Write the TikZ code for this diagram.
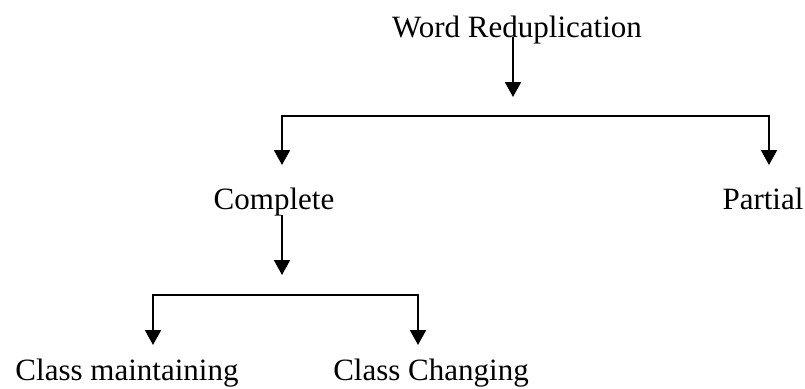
\documentclass[tikz,border=0pt]{standalone}
\usepackage{fontspec}
\setmainfont{Liberation Serif}
\usepackage{tikz}
\usetikzlibrary{arrows.meta}

\begin{document}
\begin{tikzpicture}[
 x=1pt,y=-1pt,
 lbl/.style={inner sep=0pt,anchor=base,font=\fontsize{31}{36}\selectfont},
 arr/.style={-{Triangle[length=15pt,width=16pt]},line width=2pt},
 fork/.style={{Triangle[length=15pt,width=16pt]}-{Triangle[length=15pt,width=16pt]},line width=2pt}
]
\useasboundingbox (0,0) rectangle (805,388);
\node[lbl] (wr) at (517,37) {Word Reduplication};
\node[lbl] (comp) at (274,209) {Complete};
\node[lbl] (part) at (763,209) {Partial};
\node[lbl] (cm) at (127,380) {Class maintaining};
\node[lbl] (cc) at (431,380) {Class Changing};
% first split
\coordinate (b1l) at (282,116);
\coordinate (b1r) at (769,116);
\draw[arr] ([xshift=-4pt]wr.base) -- ++(0,60);
\draw[fork] ([shift={(0,-44)}]comp.base -| b1l) -- (b1l) -- (b1r) -- ([shift={(0,-44)}]part.base -| b1r);
% second split
\coordinate (b2l) at (153,295);
\coordinate (b2r) at (418,295);
\draw[arr] ([shift={(8,6)}]comp.base) -- ++(0,60);
\draw[fork] ([shift={(0,-35)}]cm.base -| b2l) -- (b2l) -- (b2r) -- ([shift={(0,-35)}]cc.base -| b2r);
\end{tikzpicture}
\end{document}
